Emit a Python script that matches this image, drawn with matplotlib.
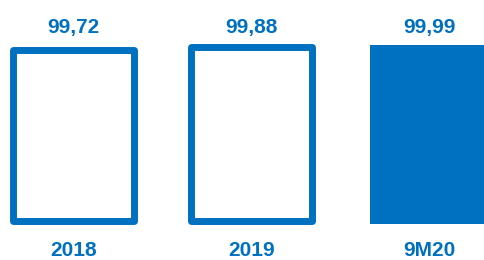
import matplotlib.pyplot as plt

# Dados
categorias = ["2018", "2019", "9M20"]
valores = [99.72, 99.88, 99.99]
rotulos = ["99,72", "99,88", "99,99"]
preenchido = [False, False, True]

azul = "#0070C0"
base = 90.0

plt.rcParams['font.family'] = ['Liberation Sans', 'DejaVu Sans']

fig = plt.figure(figsize=(4.84, 2.60), dpi=100)
ax = fig.add_axes([0, 0, 1, 1])

x = list(range(len(categorias)))
alturas = [v - base for v in valores]

for xi, h, cheio in zip(x, alturas, preenchido):
    if cheio:
        ax.bar(xi + 0.01, h, bottom=base, width=0.69, color=azul, linewidth=0)
    else:
        ax.bar(xi, h - 0.2, bottom=base + 0.2, width=0.685, facecolor="white",
               edgecolor=azul, linewidth=5, joinstyle="round")

trans = ax.get_xaxis_transform()
for xi, rot, cat in zip(x, rotulos, categorias):
    ax.text(xi, 1 - 27 / 260, rot, transform=trans, ha="center", va="center",
            fontsize=15, fontweight="bold", color=azul)
    ax.text(xi, 1 - 250 / 260, cat, transform=trans, ha="center", va="center",
            fontsize=15, fontweight="bold", color=azul)

ax.set_xlim(-0.413, 2.306)
ax.set_ylim(88.0, 102.5)
ax.axis("off")

fig.savefig("out.png", dpi=100)
